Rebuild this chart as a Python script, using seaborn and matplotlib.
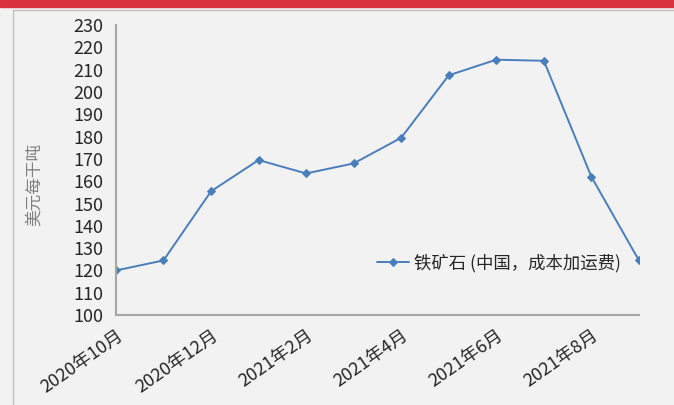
import matplotlib
matplotlib.use('Agg')
import matplotlib.pyplot as plt
import matplotlib.patches as mpatches
import seaborn as sns
import pandas as pd

months = ['2020年10月', '2020年11月', '2020年12月', '2021年1月', '2021年2月', '2021年3月',
          '2021年4月', '2021年5月', '2021年6月', '2021年7月', '2021年8月', '2021年9月']
prices = [120, 124.5, 155.5, 169.5, 163.5, 168, 179.5, 207.5, 214.5, 214, 162, 124.5]
series_name = '铁矿石 (中国，成本加运费)'
y_label = '美元每干吨'

df = pd.DataFrame({'idx': range(len(months)), 'price': prices, 'series': series_name})

sns.set_style('white')
plt.rcParams['font.family'] = ['Noto Sans CJK SC', 'DejaVu Sans']

fig = plt.figure(figsize=(6.74, 4.05), dpi=100)
fig.patch.set_facecolor('#f2f2f2')
# red bar at the top and panel border
fig.patches.append(mpatches.Rectangle((0, 0.983), 1, 0.017, transform=fig.transFigure,
                                      color='#d9323f', zorder=0))
fig.patches.append(mpatches.Rectangle((0.02, -0.01), 1.0, 0.985, transform=fig.transFigure,
                                      fill=False, edgecolor='#bfbfbf', lw=1, zorder=0))

ax = fig.add_axes([0.172, 0.222, 0.776, 0.716])
ax.set_facecolor('#f2f2f2')

sns.lineplot(data=df, x='idx', y='price', hue='series', palette=['#4a7ebb'],
             marker='D', markersize=4, markeredgecolor='#4a7ebb', linewidth=1.4, ax=ax)

ax.set_xlim(0, len(months) - 1)
ax.set_ylim(100, 230)
ax.set_yticks(range(100, 231, 10))
ax.set_xticks(range(len(months)))
ax.set_xticklabels([m if i % 2 == 0 else '' for i, m in enumerate(months)],
                   rotation=35, ha='right', rotation_mode='anchor')
ax.tick_params(axis='both', labelsize=13, colors='#404040', length=4, width=1, direction='out')
ax.tick_params(axis='x', pad=4)
ax.tick_params(axis='y', pad=5)
for lab in ax.get_yticklabels():
    lab.set_color('#262626')
for lab in ax.get_xticklabels():
    lab.set_color('#262626')

for s in ['top', 'right']:
    ax.spines[s].set_visible(False)
for s in ['left', 'bottom']:
    ax.spines[s].set_color('#a6a6a6')
    ax.spines[s].set_linewidth(1.5)

ax.set_xlabel('')
ax.set_ylabel(y_label, fontsize=12, color='#808080')
ax.yaxis.set_label_coords(-0.14, 0.45)

leg = ax.legend(loc='center left', bbox_to_anchor=(0.47, 0.18), frameon=False,
                fontsize=12.5, handlelength=1.8, handletextpad=0.3)
for t in leg.get_texts():
    t.set_color('#262626')

fig.savefig('out.png', dpi=100, facecolor=fig.get_facecolor())
